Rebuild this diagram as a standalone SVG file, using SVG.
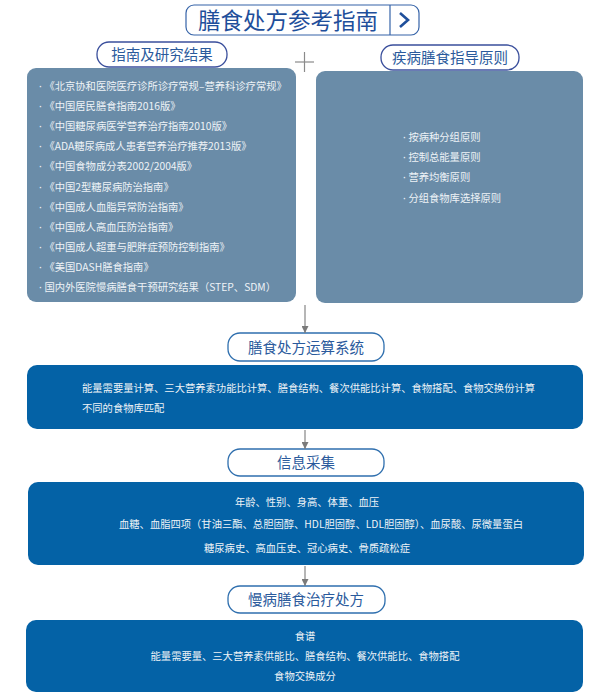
<svg xmlns="http://www.w3.org/2000/svg" width="610" height="700" viewBox="0 0 610 700">
<defs>
<style>
text{font-family:"Noto Sans CJK SC","Noto Sans",sans-serif;}
.b{font-family:"Noto Sans",sans-serif;}
.slate{fill:#6a8ca8;}
.blue{fill:#0462a6;}
.lbl{fill:#fff;stroke:#3a4f9c;stroke-width:1.3;}
.lbl2{fill:#fff;stroke:#2f6fae;stroke-width:1.3;}
.lt{fill:#2a5a9c;font-size:14.5px;text-anchor:middle;}
.it{fill:#eef3f7;font-size:10.3px;}
.ct{fill:#eef3f7;font-size:10.3px;text-anchor:middle;}
.conn{stroke:#7a7a7a;stroke-width:1.1;fill:none;}
</style>
<marker id="ah" viewBox="0 0 10 10" refX="10" refY="5" markerWidth="7" markerHeight="7" markerUnits="userSpaceOnUse" orient="auto">
<path d="M0,0 L10,5 L0,10 z" fill="#7a7a7a"/>
</marker>
</defs>
<rect width="610" height="700" fill="#fff"/>

<g id="title">
<rect x="186" y="5" width="233" height="30" rx="8" fill="#fff" stroke="#3563a8" stroke-width="1.2"/>
<line x1="390" y1="5" x2="390" y2="35" stroke="#3563a8" stroke-width="1.2"/>
<text x="288" y="28.5" style="fill:#1f4f9b;font-size:22.5px;text-anchor:middle">膳食处方参考指南</text>
<path d="M400,13 L408,20 L400,27" fill="none" stroke="#1f4f9b" stroke-width="2.6" stroke-linejoin="miter"/>
</g>

<g id="plus">
<line x1="295" y1="62" x2="314" y2="62" stroke="#8a8a8a" stroke-width="1.2"/>
<line x1="304.5" y1="52" x2="304.5" y2="72" stroke="#8a8a8a" stroke-width="1.2"/>
</g>

<g id="guides">
<rect class="slate" x="27" y="68" width="269" height="234" rx="9"/>
<rect class="lbl" x="97" y="42" width="130" height="25" rx="12"/>
<text class="lt" x="162" y="59.5">指南及研究结果</text>
<g class="it">
<text x="39" y="90"><tspan class="b">· </tspan>《北京协和医院医疗诊所诊疗常规–营养科诊疗常规》</text>
<text x="39" y="110"><tspan class="b">· </tspan>《中国居民膳食指南2016版》</text>
<text x="39" y="130"><tspan class="b">· </tspan>《中国糖尿病医学营养治疗指南2010版》</text>
<text x="39" y="150"><tspan class="b">· </tspan>《ADA糖尿病成人患者营养治疗推荐2013版》</text>
<text x="39" y="170"><tspan class="b">· </tspan>《中国食物成分表2002/2004版》</text>
<text x="39" y="191"><tspan class="b">· </tspan>《中国2型糖尿病防治指南》</text>
<text x="39" y="211"><tspan class="b">· </tspan>《中国成人血脂异常防治指南》</text>
<text x="39" y="231"><tspan class="b">· </tspan>《中国成人高血压防治指南》</text>
<text x="39" y="251"><tspan class="b">· </tspan>《中国成人超重与肥胖症预防控制指南》</text>
<text x="39" y="271"><tspan class="b">· </tspan>《美国DASH膳食指南》</text>
<text x="39" y="291"><tspan class="b">· </tspan>国内外医院慢病膳食干预研究结果（STEP、SDM）</text>
</g>
</g>

<g id="principles">
<rect class="slate" x="316" y="71" width="267" height="232" rx="9"/>
<rect class="lbl" x="381" y="45" width="138" height="25" rx="12"/>
<text class="lt" x="450" y="62.5">疾病膳食指导原则</text>
<g class="it">
<text x="403" y="141"><tspan class="b">· </tspan>按病种分组原则</text>
<text x="403" y="161"><tspan class="b">· </tspan>控制总能量原则</text>
<text x="403" y="181"><tspan class="b">· </tspan>营养均衡原则</text>
<text x="403" y="202"><tspan class="b">· </tspan>分组食物库选择原则</text>
</g>
</g>

<g id="calc">
<rect class="lbl2" x="228" y="333" width="156" height="28" rx="12"/>
<text class="lt" x="306" y="352.5">膳食处方运算系统</text>
<rect class="blue" x="27" y="365" width="556" height="64" rx="10"/>
<text class="it" x="82" y="391.5">能量需要量计算、三大营养素功能比计算、膳食结构、餐次供能比计算、食物搭配、食物交换份计算</text>
<text class="it" x="82" y="411.5">不同的食物库匹配</text>
</g>

<g id="collect">
<rect class="lbl2" x="228" y="449" width="156" height="27" rx="12"/>
<text class="lt" x="306" y="468">信息采集</text>
<rect class="blue" x="28" y="482" width="556" height="83" rx="10"/>
<text class="ct" x="307" y="505.5">年龄、性别、身高、体重、血压</text>
<text class="ct" x="321" y="528">血糖、血脂四项（甘油三酯、总胆固醇、HDL胆固醇、LDL胆固醇）、血尿酸、尿微量蛋白</text>
<text class="ct" x="307" y="551.5">糖尿病史、高血压史、冠心病史、骨质疏松症</text>
</g>

<g id="prescription">
<rect class="lbl2" x="228" y="586" width="157" height="27" rx="12"/>
<text class="lt" x="306" y="605">慢病膳食治疗处方</text>
<rect class="blue" x="26" y="620" width="557" height="72" rx="10"/>
<text class="ct" x="305" y="640">食谱</text>
<text class="ct" x="305" y="660">能量需要量、三大营养素供能比、膳食结构、餐次供能比、食物搭配</text>
<text class="ct" x="305" y="680">食物交换成分</text>
</g>

<g id="connectors">
<line class="conn" x1="305" y1="305" x2="305" y2="333" marker-end="url(#ah)"/>
<line class="conn" x1="305" y1="430" x2="305" y2="449" marker-end="url(#ah)"/>
<line class="conn" x1="305" y1="566" x2="305" y2="586" marker-end="url(#ah)"/>
</g>
</svg>
